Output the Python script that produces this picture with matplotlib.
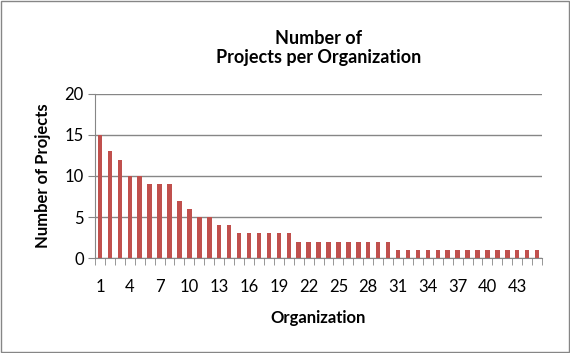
import numpy as np
import matplotlib.pyplot as plt

orgs = list(range(1, 46))
projects = [15, 13, 12, 10, 10, 9, 9, 9, 7, 6, 5, 5, 4, 4,
            3, 3, 3, 3, 3, 3,
            2, 2, 2, 2, 2, 2, 2, 2, 2, 2,
            1, 1, 1, 1, 1, 1, 1, 1, 1, 1, 1, 1, 1, 1, 1]
tick_labels = [str(i) for i in range(1, 46, 3)]

plt.rcParams['font.family'] = ['Lato', 'DejaVu Sans']

fig = plt.figure(figsize=(5.7, 3.53), dpi=100)
ax = fig.add_axes([0.1667, 0.269, 0.7843, 0.465])

x = np.arange(len(orgs))
ax.bar(x, projects, width=0.45, color='#C0504D', zorder=3)

ax.set_xlim(-0.5, len(orgs) - 0.5)
ax.set_ylim(0, 20)
ax.set_yticks([0, 5, 10, 15, 20])
ax.set_xticks(np.arange(0, 45, 3))
ax.set_xticklabels(tick_labels)
ax.set_xticks(np.arange(-0.5, 45, 1), minor=True)
ax.tick_params(axis='x', which='major', length=0, pad=15, labelsize=12)
ax.tick_params(axis='x', which='minor', length=5, color='#868686', direction='out')
ax.tick_params(axis='y', length=5, color='#868686', labelsize=12, pad=3)

ax.grid(axis='y', color='#868686', linewidth=1, zorder=0)
for s in ['top', 'right']:
    ax.spines[s].set_visible(False)
ax.spines['left'].set_color('#868686')
ax.spines['bottom'].set_color('#868686')

ax.set_xlabel('Organization', fontsize=12, fontweight='bold', labelpad=11)
ax.set_ylabel('Number of Projects', fontsize=12, fontweight='bold', labelpad=10)
ax.set_title('Number of\nProjects per Organization', fontsize=13, fontweight='bold', pad=22)

fig.patches.append(plt.Rectangle((0.002, 0.003), 0.996, 0.994, transform=fig.transFigure,
                                 fill=False, edgecolor='#868686', linewidth=1))

fig.savefig('out.png', dpi=100)
